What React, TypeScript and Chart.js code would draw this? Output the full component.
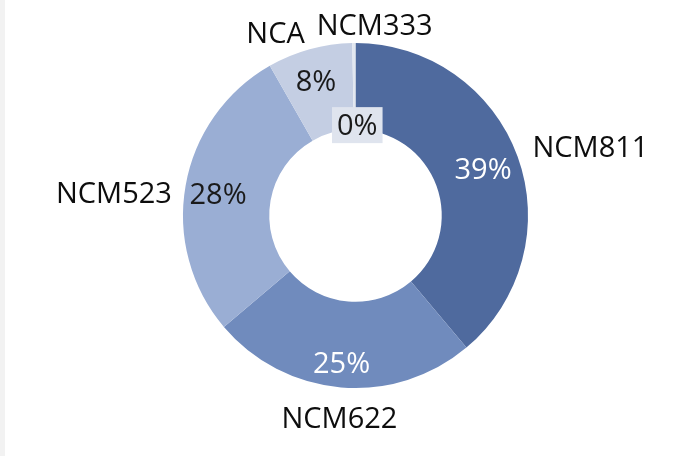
import React, { useEffect, useRef } from "react";
import { Chart, registerables } from "chart.js";

Chart.register(...registerables);

const categories = ["NCM811", "NCM622", "NCM523", "NCA", "NCM333"];
const shares = [39, 25, 28, 8, 0.3];
const sliceColors = ["#4f6a9e", "#708bbd", "#9aaed4", "#c4cee3", "#e2e7f0"];
const pctColors = ["#ffffff", "#ffffff", "#1a1a1a", "#1a1a1a", "#1a1a1a"];

// label nudges (style only, relative to geometry-derived anchors)
const pctNudge = [[6, -3], [-3, 18], [-10, 1], [-5, -10], [3, 39]];
const nameNudge = [[-2, -4], [0, 12], [4, 10], [0, 1], [21, 0]];
const pctBox = [false, false, false, false, true];

const FONT = '"Open Sans", "Noto Sans", sans-serif';
const FS = 29;

const labelPlugin = {
  id: "sliceLabels",
  afterDatasetsDraw(chart: any) {
    const ctx = chart.ctx;
    const meta = chart.getDatasetMeta(0);
    const data = chart.data.datasets[0].data as number[];
    const total = data.reduce((a, b) => a + b, 0);
    ctx.save();
    ctx.font = `${FS}px ${FONT}`;
    const capHalf = FS * 0.357;
    meta.data.forEach((arc: any, i: number) => {
      const p = arc.getProps(["x", "y", "startAngle", "endAngle", "innerRadius", "outerRadius"], true);
      const mid = (p.startAngle + p.endAngle) / 2;
      const rMid = (p.innerRadius + p.outerRadius) / 2;
      const cx = p.x + Math.cos(mid) * rMid + pctNudge[i][0];
      const cy = p.y + Math.sin(mid) * rMid + pctNudge[i][1];
      const txt = Math.round((data[i] / total) * 100) + "%";
      ctx.textAlign = "center";
      ctx.textBaseline = "alphabetic";
      if (pctBox[i]) {
        const w = ctx.measureText(txt).width + 10;
        ctx.fillStyle = "#dfe4ee";
        ctx.fillRect(cx - w / 2, cy - 18, w, 36);
      }
      ctx.fillStyle = pctColors[i];
      ctx.fillText(txt, cx, cy + capHalf);

      const rOut = p.outerRadius + 18;
      const s = Math.cos(mid);
      const nx = p.x + s * rOut + nameNudge[i][0];
      const ny = p.y + Math.sin(mid) * rOut + nameNudge[i][1];
      ctx.textAlign = Math.abs(s) < 0.2 ? "center" : s > 0 ? "left" : "right";
      ctx.fillStyle = "#0d0d0d";
      ctx.fillText(chart.data.labels[i], nx, ny + capHalf);
    });
    ctx.restore();
  },
};

export default function App() {
  const ref = useRef<HTMLCanvasElement>(null);
  useEffect(() => {
    const chart = new Chart(ref.current!, {
      type: "doughnut",
      data: {
        labels: categories,
        datasets: [
          {
            data: shares,
            backgroundColor: sliceColors,
            borderWidth: 0,
          },
        ],
      },
      options: {
        animation: false,
        responsive: false,
        cutout: "50%",
        layout: { padding: { left: 183, right: 161, top: 43, bottom: 68 } },
        plugins: { legend: { display: false }, tooltip: { enabled: false } },
      },
      plugins: [labelPlugin],
    });
    return () => chart.destroy();
  }, []);
  return (
    <div
      style={{
        position: "absolute",
        left: 0,
        top: 0,
        width: 689,
        height: 456,
        background: "#ffffff",
        overflow: "hidden",
      }}
    >
      <div style={{ position: "absolute", left: 0, top: 0, width: 5, height: 456, background: "#f2f2f2" }} />
      <canvas ref={ref} width={689} height={456} style={{ position: "absolute", left: 0, top: 0 }} />
    </div>
  );
}
